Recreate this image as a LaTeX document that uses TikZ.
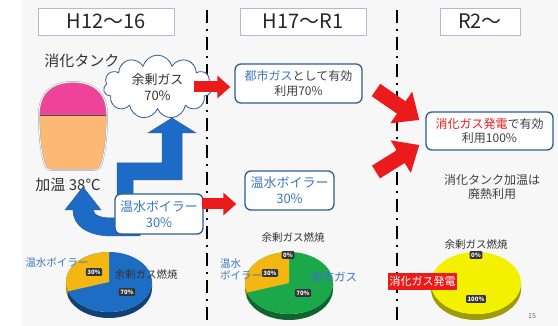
\documentclass[tikz,border=0pt]{standalone}
\usepackage{fontspec}
\setmainfont{Noto Sans CJK JP}
\usetikzlibrary{shapes.symbols,arrows.meta,positioning}

\definecolor{tankpink}{HTML}{EE4399}
\definecolor{tankorange}{HTML}{FDB874}
\definecolor{flowblue}{HTML}{1D6BC6}
\definecolor{boxedge}{HTML}{2C5E8E}
\definecolor{textblue}{HTML}{3C77BE}
\definecolor{hotred}{HTML}{EC1B1B}
\definecolor{headedge}{HTML}{A9BED6}
\definecolor{pieblue}{HTML}{1E6DC5}
\definecolor{pieyellow}{HTML}{F4B712}
\definecolor{piegreen}{HTML}{1BA84B}
\definecolor{pielemon}{HTML}{F3F000}

\begin{document}
\begin{tikzpicture}[x=1pt,y=-1pt,
	head/.style={draw=headedge,fill=white,minimum height=27pt,font=\fontsize{20}{20}\selectfont,text=black!85},
	infobox/.style={draw=boxedge,line width=1.3pt,rounded corners=6pt,fill=white,align=center,font=\fontsize{12}{14.5}\selectfont,text=black!75},
	border/.style={line width=1.8pt,dash pattern=on 13pt off 6pt on 2pt off 6pt},
	fatred/.style={hotred,line width=11pt,-{Triangle[width=22pt,length=13pt]}},
	bigred/.style={hotred,line width=15pt,-{Triangle[width=37pt,length=22pt]}},
	pct/.style={fill=black!80,text=white,rounded corners=1pt,inner sep=1.5pt,font=\fontsize{6}{6}\bfseries\selectfont},
	pielabel/.style={font=\fontsize{10.5}{12}\selectfont,text=black!80}]
	\useasboundingbox (0,0) rectangle (558,326);
	\fill[black!3] (22,0) rectangle (558,326);

	% period headings and dividers
	\node[head,minimum width=136pt] (h1) at (106,21.5) {H12～16};
	\node[head,minimum width=126pt] (h2) at (303,21.5) {H17～R1};
	\node[head,minimum width=80pt] (h3) at (480,21.5) {R2～};
	\draw[border] (207,10) -- (207,326);
	\draw[border] (397,10) -- (397,326);

	% digestion tank
	\node[font=\fontsize{15}{15}\selectfont,text=black!80] (tanklabel) at (82,61) {消化タンク};
	\fill[tankpink] (39,115) .. controls (39,90) and (55,82) .. (73,82) .. controls (91,82) and (107,90) .. (107,115) -- cycle;
	\fill[tankorange] (39,115) -- (107,115) .. controls (107,135) and (105,150) .. (103,158) .. controls (101,168) and (99,170) .. (93,170) -- (53,170) .. controls (47,170) and (45,168) .. (43,158) .. controls (41,150) and (39,135) .. (39,115) -- cycle;
	\draw[black!70,line width=0.6pt] (39,115) -- (107,115);
	\draw[gray!70,double=white,double distance=0.8pt,line width=0.5pt] (39,115) .. controls (39,90) and (55,82) .. (73,82) .. controls (91,82) and (107,90) .. (107,115) .. controls (107,135) and (105,150) .. (103,158) .. controls (101,168) and (99,170) .. (93,170) -- (53,170) .. controls (47,170) and (45,168) .. (43,158) .. controls (41,150) and (39,135) .. (39,115) -- cycle;
	\node[font=\fontsize{15}{15}\selectfont,text=black!80] (heat) at (68,185) {加温 38℃};

	% gas flow arrows
	\filldraw[fill=flowblue,draw=boxedge,line width=0.5pt] (117,215) -- (117,163) -- (162,163) -- (162,133) -- (148,133) -- (172,118) -- (196,133) -- (182,133) -- (182,180) -- (133,180) -- (133,215) -- cycle;
	\filldraw[fill=flowblue,draw=boxedge,line width=0.5pt] (83,187) -- (101,210) -- (93,210) .. controls (94,216) and (102,218) .. (112,218) -- (140,218) -- (140,236) -- (112,236) .. controls (88,236) and (73,226) .. (73,210) -- (65,210) -- cycle;

	\node[cloud,cloud puffs=11,cloud ignores aspect,draw=boxedge,line width=0.8pt,fill=white,minimum width=108pt,minimum height=36pt,align=center,font=\fontsize{13}{16}\selectfont,text=black!80] (surplus) at (157.5,87) {余剰ガス\\70\%};
	\node[infobox,minimum width=88pt,minimum height=40pt,text=textblue,font=\fontsize{13}{16}\selectfont] (boiler) at (159,214) {温水ボイラー\\30\%};

	% second period
	\node[infobox,minimum width=127pt,minimum height=39pt] (citygas) at (298.5,83.5) {\textcolor{textblue}{都市ガス}として有効\\利用70\%};
	\node[infobox,minimum width=89pt,minimum height=39pt,text=textblue,font=\fontsize{13}{16}\selectfont] (boiler2) at (289.5,190.5) {温水ボイラー\\30\%};
	\draw[fatred] ([xshift=-17pt]surplus.east) -- ([xshift=-4pt]surplus.east -| citygas.west);
	\draw[fatred] ([xshift=-2pt,yshift=10pt]boiler.east) -- ([xshift=-8pt,yshift=10pt]boiler.east -| boiler2.west);

	% third period
	\node[infobox,minimum width=127pt,minimum height=38pt] (power) at (489.5,131) {\textcolor{hotred}{消化ガス発電}で有効\\利用100\%};
	\coordinate (gasin) at (376,90);
	\coordinate (hotin) at (376,172);
	\draw[bigred] (gasin) -- ([xshift=-6pt,yshift=11pt]power.west);
	\draw[bigred] (hotin) -- ([xshift=-6pt,yshift=-14pt]power.west);
	\node[align=center,font=\fontsize{12}{14}\selectfont,text=black!75] (wasteheat) at (492,187) {消化タンク加温は\\廃熱利用};

	% pie: H12-16
	\begin{scope}[shift={(109,282)}]
		\fill[pieyellow!70!black] (-43pt,0pt) arc[start angle=180,end angle=198,x radius=43pt,y radius=30pt] -- ++(0,6) arc[start angle=198,end angle=180,x radius=43pt,y radius=30pt] -- cycle;
		\fill[pieblue!60!black] (198:43pt and 30pt) arc[start angle=198,end angle=360,x radius=43pt,y radius=30pt] -- ++(0,6) arc[start angle=360,end angle=198,x radius=43pt,y radius=30pt] -- cycle;
		\fill[pieblue] (0,0) ellipse[x radius=43pt,y radius=30pt];
		\fill[pieyellow] (0,0) -- (90:43pt and 30pt) arc[start angle=90,end angle=198,x radius=43pt,y radius=30pt] -- cycle;
	\end{scope}
	\node[pct] (p1a) at (94,272) {30\%};
	\node[pct] (p1b) at (127,292) {70\%};
	\node[pielabel,text=textblue] (p1boiler) at (57,263) {温水ボイラー};
	\node[pielabel] (p1gas) at (146,274) {余剰ガス燃焼};

	% pie: H17-R1
	\begin{scope}[shift={(289,283)}]
		\fill[pieyellow!70!black] (-44pt,0pt) arc[start angle=180,end angle=198,x radius=44pt,y radius=31pt] -- ++(0,6) arc[start angle=198,end angle=180,x radius=44pt,y radius=31pt] -- cycle;
		\fill[piegreen!60!black] (198:44pt and 31pt) arc[start angle=198,end angle=360,x radius=44pt,y radius=31pt] -- ++(0,6) arc[start angle=360,end angle=198,x radius=44pt,y radius=31pt] -- cycle;
		\fill[piegreen] (0,0) ellipse[x radius=44pt,y radius=31pt];
		\fill[pieyellow] (0,0) -- (90:44pt and 31pt) arc[start angle=90,end angle=198,x radius=44pt,y radius=31pt] -- cycle;
	\end{scope}
	\node[pct] (p2a) at (288,255) {0\%};
	\node[pct] (p2b) at (270,273) {30\%};
	\node[pct] (p2c) at (303,293) {70\%};
	\node[pielabel] (p2gas) at (293,237) {余剰ガス燃焼};
	\node[pielabel,text=textblue,align=left,anchor=west,inner sep=0pt] (p2boiler) at (220,269) {温水\\ボイラー};
	\node[pielabel,text=textblue,font=\fontsize{11.5}{12}\selectfont] (p2city) at (334,277) {都市ガス};

	% pie: R2-
	\begin{scope}[shift={(476,283)}]
		\fill[pielemon!65!black] (-45pt,0pt) arc[start angle=180,end angle=360,x radius=45pt,y radius=31pt] -- ++(0,6) arc[start angle=360,end angle=180,x radius=45pt,y radius=31pt] -- cycle;
		\fill[pielemon] (0,0) ellipse[x radius=45pt,y radius=31pt];
	\end{scope}
	\node[pct] (p3a) at (476,255) {0\%};
	\node[pct] (p3b) at (476,299) {100\%};
	\node[pielabel] (p3gas) at (476,244) {余剰ガス燃焼};
	\node[fill=hotred,text=white,minimum width=69pt,minimum height=17pt,inner sep=1pt,font=\fontsize{11}{11}\selectfont] (p3power) at (422.5,281.5) {消化ガス発電};

	\node[font=\fontsize{7}{7}\selectfont,text=black!60] (page) at (532,316) {15};
\end{tikzpicture}
\end{document}
